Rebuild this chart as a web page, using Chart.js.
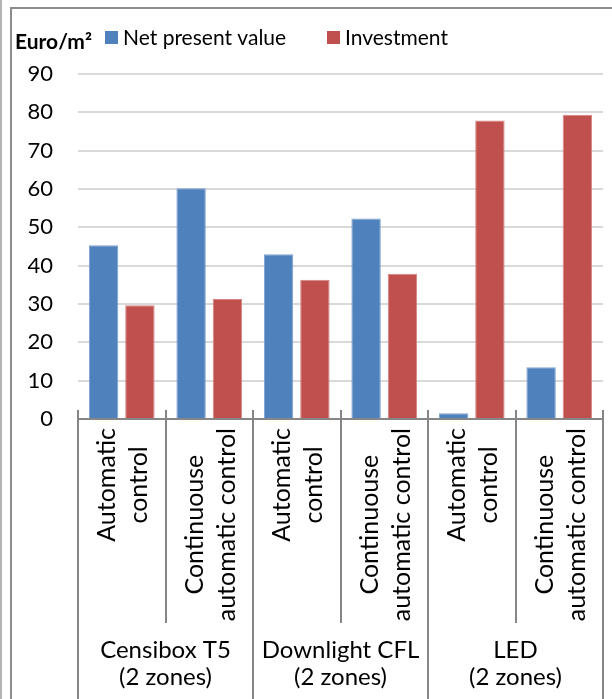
<!DOCTYPE html>
<html>
<head>
<meta charset="utf-8">
<script src="https://cdn.jsdelivr.net/npm/chart.js@4/dist/chart.umd.min.js"></script>
<style>
  html, body { margin: 0; padding: 0; background: #fff; }
  #wrap { position: relative; width: 612px; height: 699px; }
</style>
</head>
<body>
<div id="wrap"><canvas id="c" width="612" height="699"></canvas></div>
<script>
// Lighting options, grouped by luminaire type
const categoryLabels = [
  ['Automatic', 'control'],
  ['Continuouse', 'automatic control'],
  ['Automatic', 'control'],
  ['Continuouse', 'automatic control'],
  ['Automatic', 'control'],
  ['Continuouse', 'automatic control']
];
const groupLabels = [
  ['Censibox T5', '(2 zones)'],
  ['Downlight CFL', '(2 zones)'],
  ['LED', '(2 zones)']
];
const seriesNames = ['Net present value', 'Investment'];
const netPresentValue = [45.3, 60.2, 43.0, 52.3, 1.5, 13.5];
const investment = [29.7, 31.3, 36.3, 37.9, 77.9, 79.4];
const unitLabel = 'Euro/m\u00B2';
const yMin = 0, yMax = 90, yStep = 10;

const BLUE = '#4f81bd', RED = '#c0504d';
const AXIS = '#868686';
const FONT = 'Lato';

// Outer frame of the figure
const framePlugin = {
  id: 'frame',
  beforeDraw(chart) {
    const ctx = chart.ctx;
    ctx.save();
    ctx.fillStyle = '#fff';
    ctx.fillRect(0, 0, chart.width, chart.height);
    ctx.fillStyle = '#b4b4b4';
    ctx.fillRect(0, 0, 2, chart.height);
    ctx.fillStyle = '#8c8c8c';
    ctx.fillRect(10, 7, 2, chart.height - 7);
    ctx.fillRect(10, 7, chart.width - 10, 2);
    ctx.restore();
  }
};

// Unit caption and series key across the top
const keyPlugin = {
  id: 'key',
  afterDraw(chart) {
    const ctx = chart.ctx;
    ctx.save();
    ctx.fillStyle = '#000';
    ctx.textBaseline = 'alphabetic';
    ctx.textAlign = 'left';
    ctx.font = 'bold 21px ' + FONT;
    ctx.fillText(unitLabel, 15, 49);
    const items = chart.data.datasets;
    const boxX = [105, 327];
    items.forEach((ds, i) => {
      ctx.fillStyle = ds.backgroundColor;
      ctx.fillRect(boxX[i], 31, 13, 13);
      ctx.fillStyle = '#000';
      ctx.font = '21px ' + FONT;
      ctx.fillText(ds.label, boxX[i] + 18, 45);
    });
    ctx.restore();
  }
};

// Category axis: baseline, separators, rotated option labels and group labels
const categoryAxisPlugin = {
  id: 'categoryAxis',
  afterDatasetsDraw(chart) {
    const ctx = chart.ctx;
    const xs = chart.scales.x;
    const area = chart.chartArea;
    const n = chart.data.labels.length;
    const yAxis = area.bottom;
    const half = (xs.getPixelForValue(1) - xs.getPixelForValue(0)) / 2;

    ctx.save();
    ctx.fillStyle = AXIS;
    ctx.fillRect(area.left - 1, yAxis - 1, area.right - area.left + 2, 2);

    for (let i = 0; i <= n; i++) {
      const x = Math.round(i < n ? xs.getPixelForValue(i) - half : xs.getPixelForValue(n - 1) + half);
      const bottom = (i % 2 === 0) ? chart.height : 623;
      ctx.fillRect(x - 1, yAxis - 9, 2, bottom - (yAxis - 9));
    }

    // rotated two-line option labels
    ctx.fillStyle = '#000';
    ctx.font = '25px ' + FONT;
    ctx.textAlign = 'center';
    ctx.textBaseline = 'alphabetic';
    chart.data.labels.forEach((lines, i) => {
      const cx = xs.getPixelForValue(i);
      const longest = Math.max(...lines.map(t => ctx.measureText(t).width));
      const cy = yAxis + 9 + longest / 2;
      ctx.save();
      ctx.translate(cx, cy);
      ctx.rotate(-Math.PI / 2);
      const offsets = [-6.5, 25.5];
      lines.forEach((t, j) => ctx.fillText(t, 0, offsets[j]));
      ctx.restore();
    });

    // group labels
    ctx.font = '24px ' + FONT;
    groupLabels.forEach((lines, g) => {
      const gx = (xs.getPixelForValue(2 * g) + xs.getPixelForValue(2 * g + 1)) / 2;
      ctx.fillText(lines[0], gx, 658);
      ctx.fillText(lines[1], gx, 685);
    });
    ctx.restore();
  }
};

new Chart(document.getElementById('c'), {
  type: 'bar',
  data: {
    labels: categoryLabels,
    datasets: [
      { label: seriesNames[0], data: netPresentValue, backgroundColor: BLUE,
        borderColor: '#7ea2d3', borderWidth: 1,
        categoryPercentage: 0.83, barPercentage: 0.81 },
      { label: seriesNames[1], data: investment, backgroundColor: RED,
        borderColor: '#d88482', borderWidth: 1,
        categoryPercentage: 0.83, barPercentage: 0.81 }
    ]
  },
  options: {
    responsive: false,
    devicePixelRatio: 1,
    animation: false,
    layout: { padding: { top: 74, left: 0, right: 9, bottom: 0 } },
    plugins: {
      legend: { display: false },
      tooltip: { enabled: false }
    },
    scales: {
      x: {
        ticks: { display: false },
        grid: { display: false },
        border: { display: false },
        afterFit(scale) { scale.height = 280; }
      },
      y: {
        min: yMin, max: yMax,
        ticks: { stepSize: yStep, color: '#000', padding: 25,
                 font: { family: FONT, size: 22 } },
        grid: { color: '#d9d9d9', lineWidth: 2, drawTicks: false },
        border: { display: false },
        afterFit(scale) { scale.width = 78; }
      }
    }
  },
  plugins: [framePlugin, keyPlugin, categoryAxisPlugin]
});
</script>
</body>
</html>
